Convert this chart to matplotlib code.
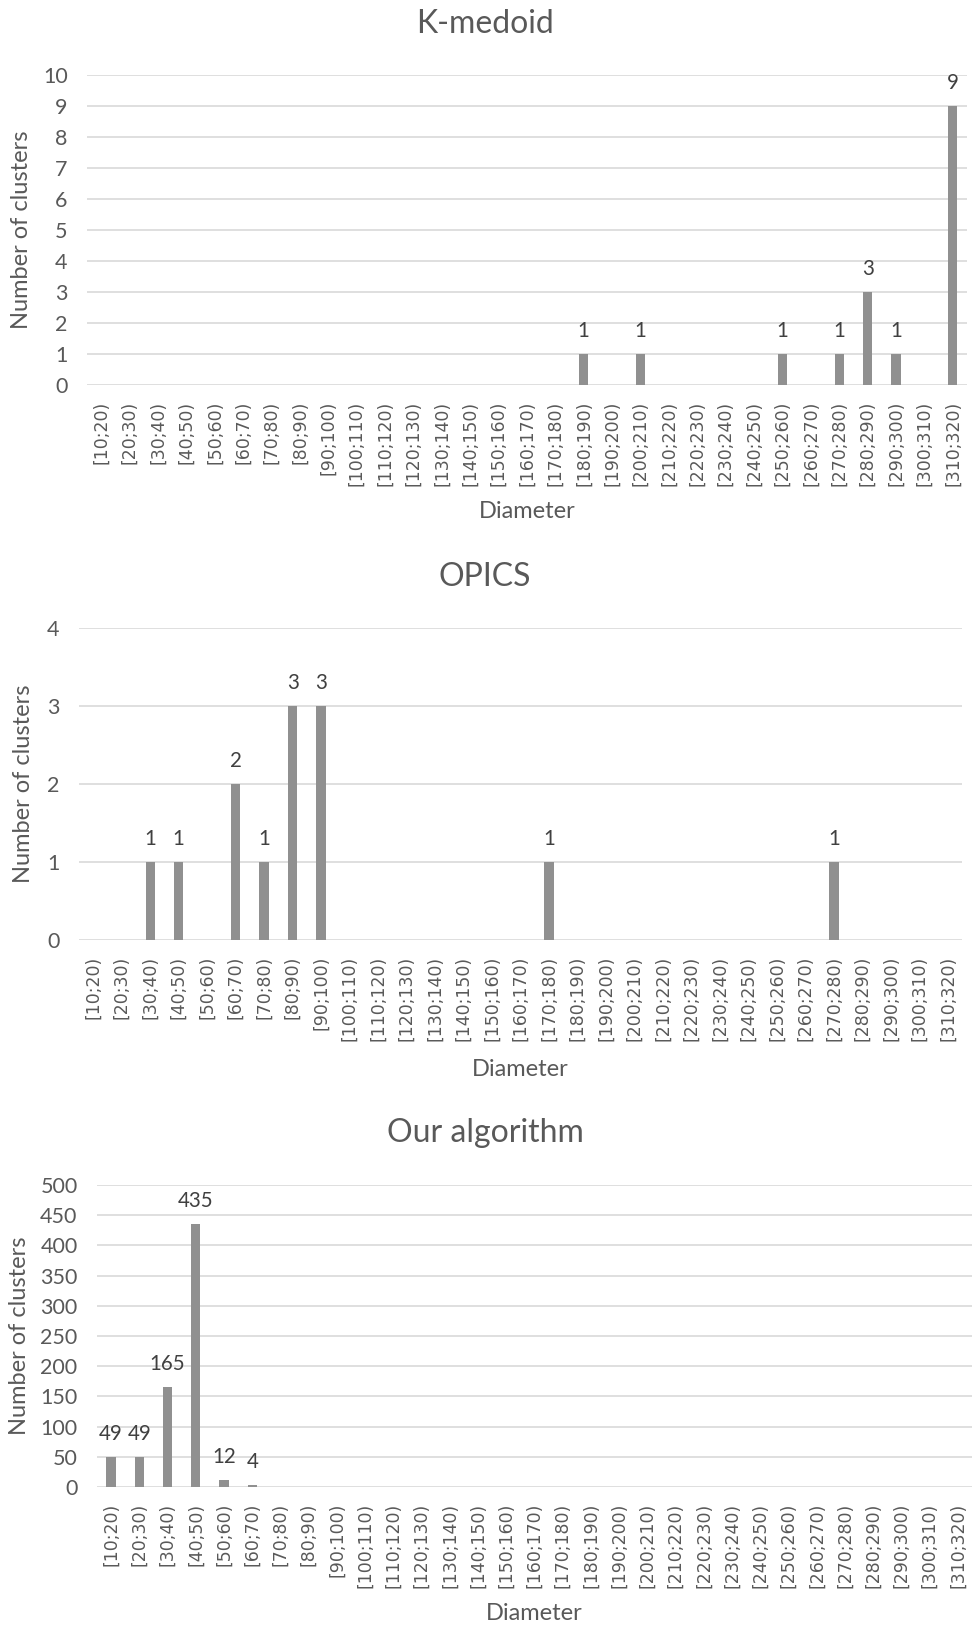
import matplotlib.pyplot as plt
import numpy as np

# diameter bins (x categories)
bins = ['[10;20)', '[20;30)', '[30;40)', '[40;50)', '[50;60)', '[60;70)', '[70;80)',
        '[80;90)', '[90;100)', '[100;110)', '[110;120)', '[120;130)', '[130;140)',
        '[140;150)', '[150;160)', '[160;170)', '[170;180)', '[180;190)', '[190;200)',
        '[200;210)', '[210;220)', '[220;230)', '[230;240)', '[240;250)', '[250;260)',
        '[260;270)', '[270;280)', '[280;290)', '[290;300)', '[300;310)', '[310;320)']

# number of clusters per bin
kmedoid = [0, 0, 0, 0, 0, 0, 0, 0, 0, 0, 0, 0, 0, 0, 0, 0, 0, 1, 0, 1,
           0, 0, 0, 0, 1, 0, 1, 3, 1, 0, 9]
opics = [0, 0, 1, 1, 0, 2, 1, 3, 3, 0, 0, 0, 0, 0, 0, 0, 1, 0, 0, 0,
         0, 0, 0, 0, 0, 0, 1, 0, 0, 0, 0]
ours = [49, 49, 165, 435, 12, 4, 0, 0, 0, 0, 0, 0, 0, 0, 0, 0, 0, 0, 0, 0,
        0, 0, 0, 0, 0, 0, 0, 0, 0, 0, 0]

titles = ['K-medoid', 'OPICS', 'Our algorithm']
yticks = [np.arange(0, 11, 1), np.arange(0, 5, 1), np.arange(0, 501, 50)]

plt.rcParams['font.family'] = ['Lato', 'DejaVu Sans']
text_col = '#595959'
bar_col = '#909090'
grid_col = '#d9d9d9'

W, H = 972, 1628
fig = plt.figure(figsize=(W / 100, H / 100), dpi=100)

# axes boxes in pixels: left, right, top, bottom
boxes = [(87, 967, 75, 385), (79, 962, 628, 940), (97, 972, 1185, 1487)]
title_y = [24, 577, 1133]
xlabel_y = [512, 1070, 1614]
ylabel_x = [22, 23, 20]

x = np.arange(len(bins))
for i, vals in enumerate([kmedoid, opics, ours]):
    l, r, t, b = boxes[i]
    ax = fig.add_axes([l / W, 1 - b / H, (r - l) / W, (b - t) / H])
    ax.bar(x, vals, width=0.33, color=bar_col, zorder=3)
    ax.set_xlim(-0.5, len(bins) - 0.5)
    ax.set_ylim(yticks[i][0], yticks[i][-1])
    ax.set_yticks(yticks[i])
    ax.set_xticks(x)
    ax.set_xticklabels(bins, rotation=90, fontsize=12.5, color=text_col,
                       family='DejaVu Sans')
    ax.tick_params(axis='y', length=0, pad=14, labelsize=15.5, labelcolor=text_col)
    ax.tick_params(axis='x', length=0, pad=11.5)
    ax.grid(axis='y', color=grid_col, linewidth=1.2, zorder=0)
    ax.set_axisbelow(True)
    for s in ax.spines.values():
        s.set_visible(False)
    for xi, v in zip(x, vals):
        if v:
            ax.annotate(str(v), (xi, v), xytext=(0, 16.5), textcoords='offset points',
                        ha='center', va='center', fontsize=14.8, color='#404040')
    fig.text(485 / W, 1 - title_y[i] / H, titles[i], ha='center', va='center',
             fontsize=23, color=text_col)
    fig.text((l + r) / 2 / W, 1 - xlabel_y[i] / H, 'Diameter', ha='center', va='center',
             fontsize=17, color=text_col)
    fig.text(ylabel_x[i] / W, 1 - (t + b) / 2 / H, 'Number of clusters', rotation=90,
             ha='center', va='center', fontsize=17, color=text_col)

fig.savefig('out.png', dpi=100)
